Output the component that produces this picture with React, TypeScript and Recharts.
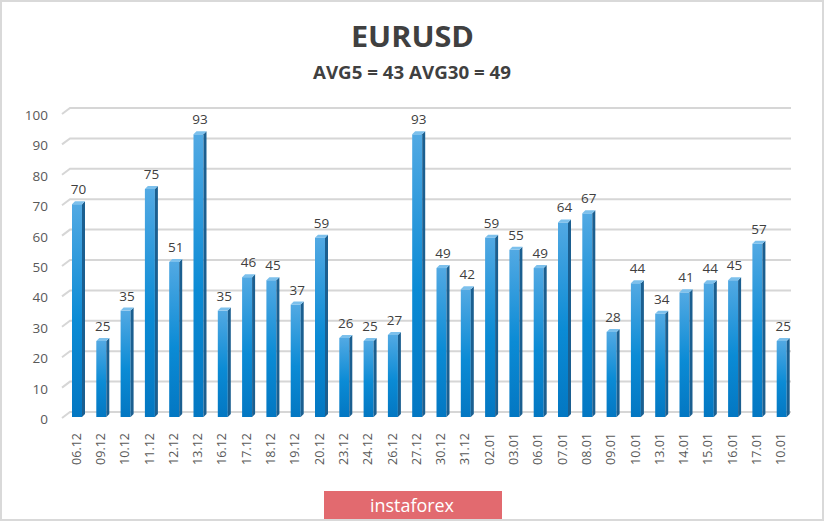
import { BarChart, Bar, XAxis, YAxis, CartesianGrid, LabelList } from 'recharts'

const dates = [
  '06.12', '09.12', '10.12', '11.12', '12.12', '13.12', '16.12', '17.12', '18.12', '19.12',
  '20.12', '23.12', '24.12', '26.12', '27.12', '30.12', '31.12', '02.01', '03.01', '06.01',
  '07.01', '08.01', '09.01', '10.01', '13.01', '14.01', '15.01', '16.01', '17.01', '10.01',
]

const ranges = [
  70, 25, 35, 75, 51, 93, 35, 46, 45, 37,
  59, 26, 25, 27, 93, 49, 42, 59, 55, 49,
  64, 67, 28, 44, 34, 41, 44, 45, 57, 25,
]

const yTicks = [0, 10, 20, 30, 40, 50, 60, 70, 80, 90, 100]

const title = 'EURUSD'
const subtitle = 'AVG5 = 43 AVG30 = 49'

const data = dates.map((d, i) => ({ date: d, value: ranges[i], idx: i }))

const FONT = '"Open Sans", "DejaVu Sans", sans-serif'
const DEPTH = 3

// 3D-looking column: front face, right side and top
function Column(props: any) {
  const { x, y, width, height } = props
  if (height == null || height <= 0) return null
  const w = width - DEPTH
  return (
    <g>
      <rect x={x} y={y} width={w} height={height} fill="url(#barFront)" />
      <polygon
        points={`${x + w},${y} ${x + w + DEPTH},${y - DEPTH} ${x + w + DEPTH},${y + height - DEPTH} ${x + w},${y + height}`}
        fill="#1b5f90"
      />
      <polygon
        points={`${x},${y} ${x + DEPTH},${y - DEPTH} ${x + w + DEPTH},${y - DEPTH} ${x + w},${y}`}
        fill="#7cc0ec"
      />
    </g>
  )
}

function GridLine(props: any) {
  const { x1, x2, y1 } = props
  const yb = y1 - 5
  return (
    <g key={props.key}>
      <polyline
        points={`${x1 - 4},${y1 + 1} ${x1 + 4},${yb} ${x2 - 4},${yb}`}
        fill="none"
        stroke="#d6d6d6"
        strokeWidth={2}
      />
    </g>
  )
}

function DateTick(props: any) {
  const { x, y, payload } = props
  const tx = x - 2
  const ty = y + 16
  return (
    <text
      x={tx}
      y={ty}
      transform={`rotate(-90, ${tx}, ${ty})`}
      textAnchor="end"
      dominantBaseline="central"
      fontSize={12.5}
      fontFamily={FONT}
      fill="#595959"
    >
      {dates[payload.value]}
    </text>
  )
}

function ValueTick(props: any) {
  const { x, y, payload } = props
  return (
    <text
      x={x}
      y={y + 2}
      textAnchor="end"
      dominantBaseline="central"
      fontSize={13.5}
      fontFamily={FONT}
      fill="#595959"
    >
      {payload.value}
    </text>
  )
}

export default function App() {
  return (
    <div
      style={{
        position: 'absolute',
        left: 0,
        top: 0,
        width: 825,
        height: 522,
        background: '#fff',
      }}
    >
      <BarChart
        width={825}
        height={522}
        data={data}
        margin={{ top: 113, right: 30, bottom: 45, left: 0 }}
      >
        <defs>
          <linearGradient id="barFront" x1="0" y1="0" x2="0" y2="1">
            <stop offset="0%" stopColor="#52a9e3" />
            <stop offset="55%" stopColor="#0b8bd5" />
            <stop offset="100%" stopColor="#0377c2" />
          </linearGradient>
        </defs>
        <CartesianGrid vertical={false} horizontal={GridLine} />
        <XAxis
          dataKey="idx"
          interval={0}
          height={60}
          axisLine={false}
          tickLine={false}
          tickSize={0}
          tickMargin={0}
          tick={DateTick}
        />
        <YAxis
          domain={[0, 100]}
          ticks={yTicks}
          width={66}
          axisLine={false}
          tickLine={false}
          tickSize={0}
          tickMargin={18}
          tick={ValueTick}
        />
        <Bar dataKey="value" barSize={13} shape={Column} isAnimationActive={false}>
          <LabelList
            dataKey="value"
            position="top"
            offset={10}
            fontSize={13.5}
            fontFamily={FONT}
            fill="#404040"
          />
        </Bar>
      </BarChart>

      <svg
        width={825}
        height={522}
        style={{ position: 'absolute', left: 0, top: 0, pointerEvents: 'none' }}
      >
        <text
          x={351}
          y={47}
          fontSize={29}
          fontWeight="bold"
          fontFamily={FONT}
          fill="#404040"
          textLength={123}
          lengthAdjust="spacingAndGlyphs"
        >
          {title}
        </text>
        <text
          x={313}
          y={79}
          fontSize={17}
          fontWeight="bold"
          fontFamily={FONT}
          fill="#404040"
          textLength={198}
          lengthAdjust="spacingAndGlyphs"
        >
          {subtitle}
        </text>
        <rect x={324} y={491} width={178} height={29} fill="#e26a6f" />
        <text
          x={370}
          y={512}
          fontSize={19}
          fontFamily={FONT}
          fill="#ffffff"
          textLength={84}
          lengthAdjust="spacingAndGlyphs"
        >
          instaforex
        </text>
        <rect x={1} y={1} width={822} height={519} fill="none" stroke="#d9d9d9" strokeWidth={2} />
      </svg>
    </div>
  )
}
